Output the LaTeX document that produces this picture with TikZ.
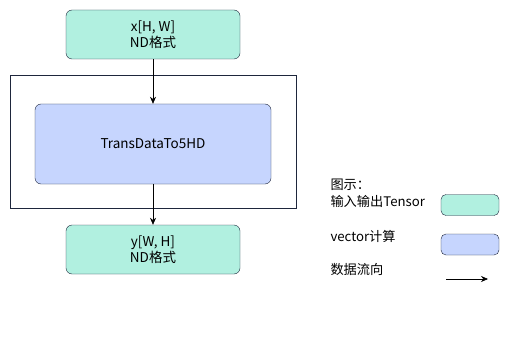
\documentclass[tikz,border=0pt]{standalone}
\usepackage{fontspec}
\setmainfont{Noto Sans CJK SC}
\usetikzlibrary{arrows.meta}
\definecolor{tensorfill}{RGB}{177,240,224}
\definecolor{vecfill}{RGB}{198,213,254}
\definecolor{boxline}{RGB}{30,38,60}

\begin{document}
\begin{tikzpicture}[x=1pt, y=-1pt,
    tensor/.style={rectangle, rounded corners=6pt, draw=boxline, fill=tensorfill,
                   minimum width=174pt, minimum height=49pt, align=center,
                   font=\fontsize{13.5}{15.5}\selectfont},
    vecbox/.style={rectangle, rounded corners=6pt, draw=boxline, fill=vecfill,
                   minimum width=236pt, minimum height=80pt, align=center,
                   font=\fontsize{13.5}{15.5}\selectfont},
    legtext/.style={anchor=west, font=\fontsize{13.2}{15}\selectfont},
    legbox/.style={rectangle, rounded corners=5pt, draw=boxline,
                   minimum width=58pt, minimum height=21pt},
    arrow/.style={-{Stealth[length=7pt, width=6pt]}, semithick}
]
\useasboundingbox (0,0) rectangle (510,339);

% Data flow boxes
\node[tensor] (xin) at (153,34.5) {x[H, W]\\ND格式};
\draw[line width=0.6pt, draw=boxline] (10,75) rectangle (296,208);
\node[vecbox] (trans) at (153,144) {TransDataTo5HD};
\node[tensor] (yout) at (153,249.5) {y[W, H]\\ND格式};

\draw[arrow] (xin.south) -- (trans.north);
\draw[arrow] (trans.south) -- (yout.north);

% Legend
\node[legtext] (legtitle) at (327,185) {图示：};
\node[legtext] (legtensor) at (327,201) {输入输出Tensor};
\node[legbox, fill=tensorfill] (keytensor) at (470,205) {};
\node[legtext] (legvec) at (327,236) {vector计算};
\node[legbox, fill=vecfill] (keyvec) at (470,244.5) {};
\node[legtext] (legflow) at (327,269) {数据流向};
\coordinate (flowa) at (446,279);
\coordinate (flowb) at (488,279);
\draw[arrow] (flowa) -- (flowb);

\end{tikzpicture}
\end{document}
